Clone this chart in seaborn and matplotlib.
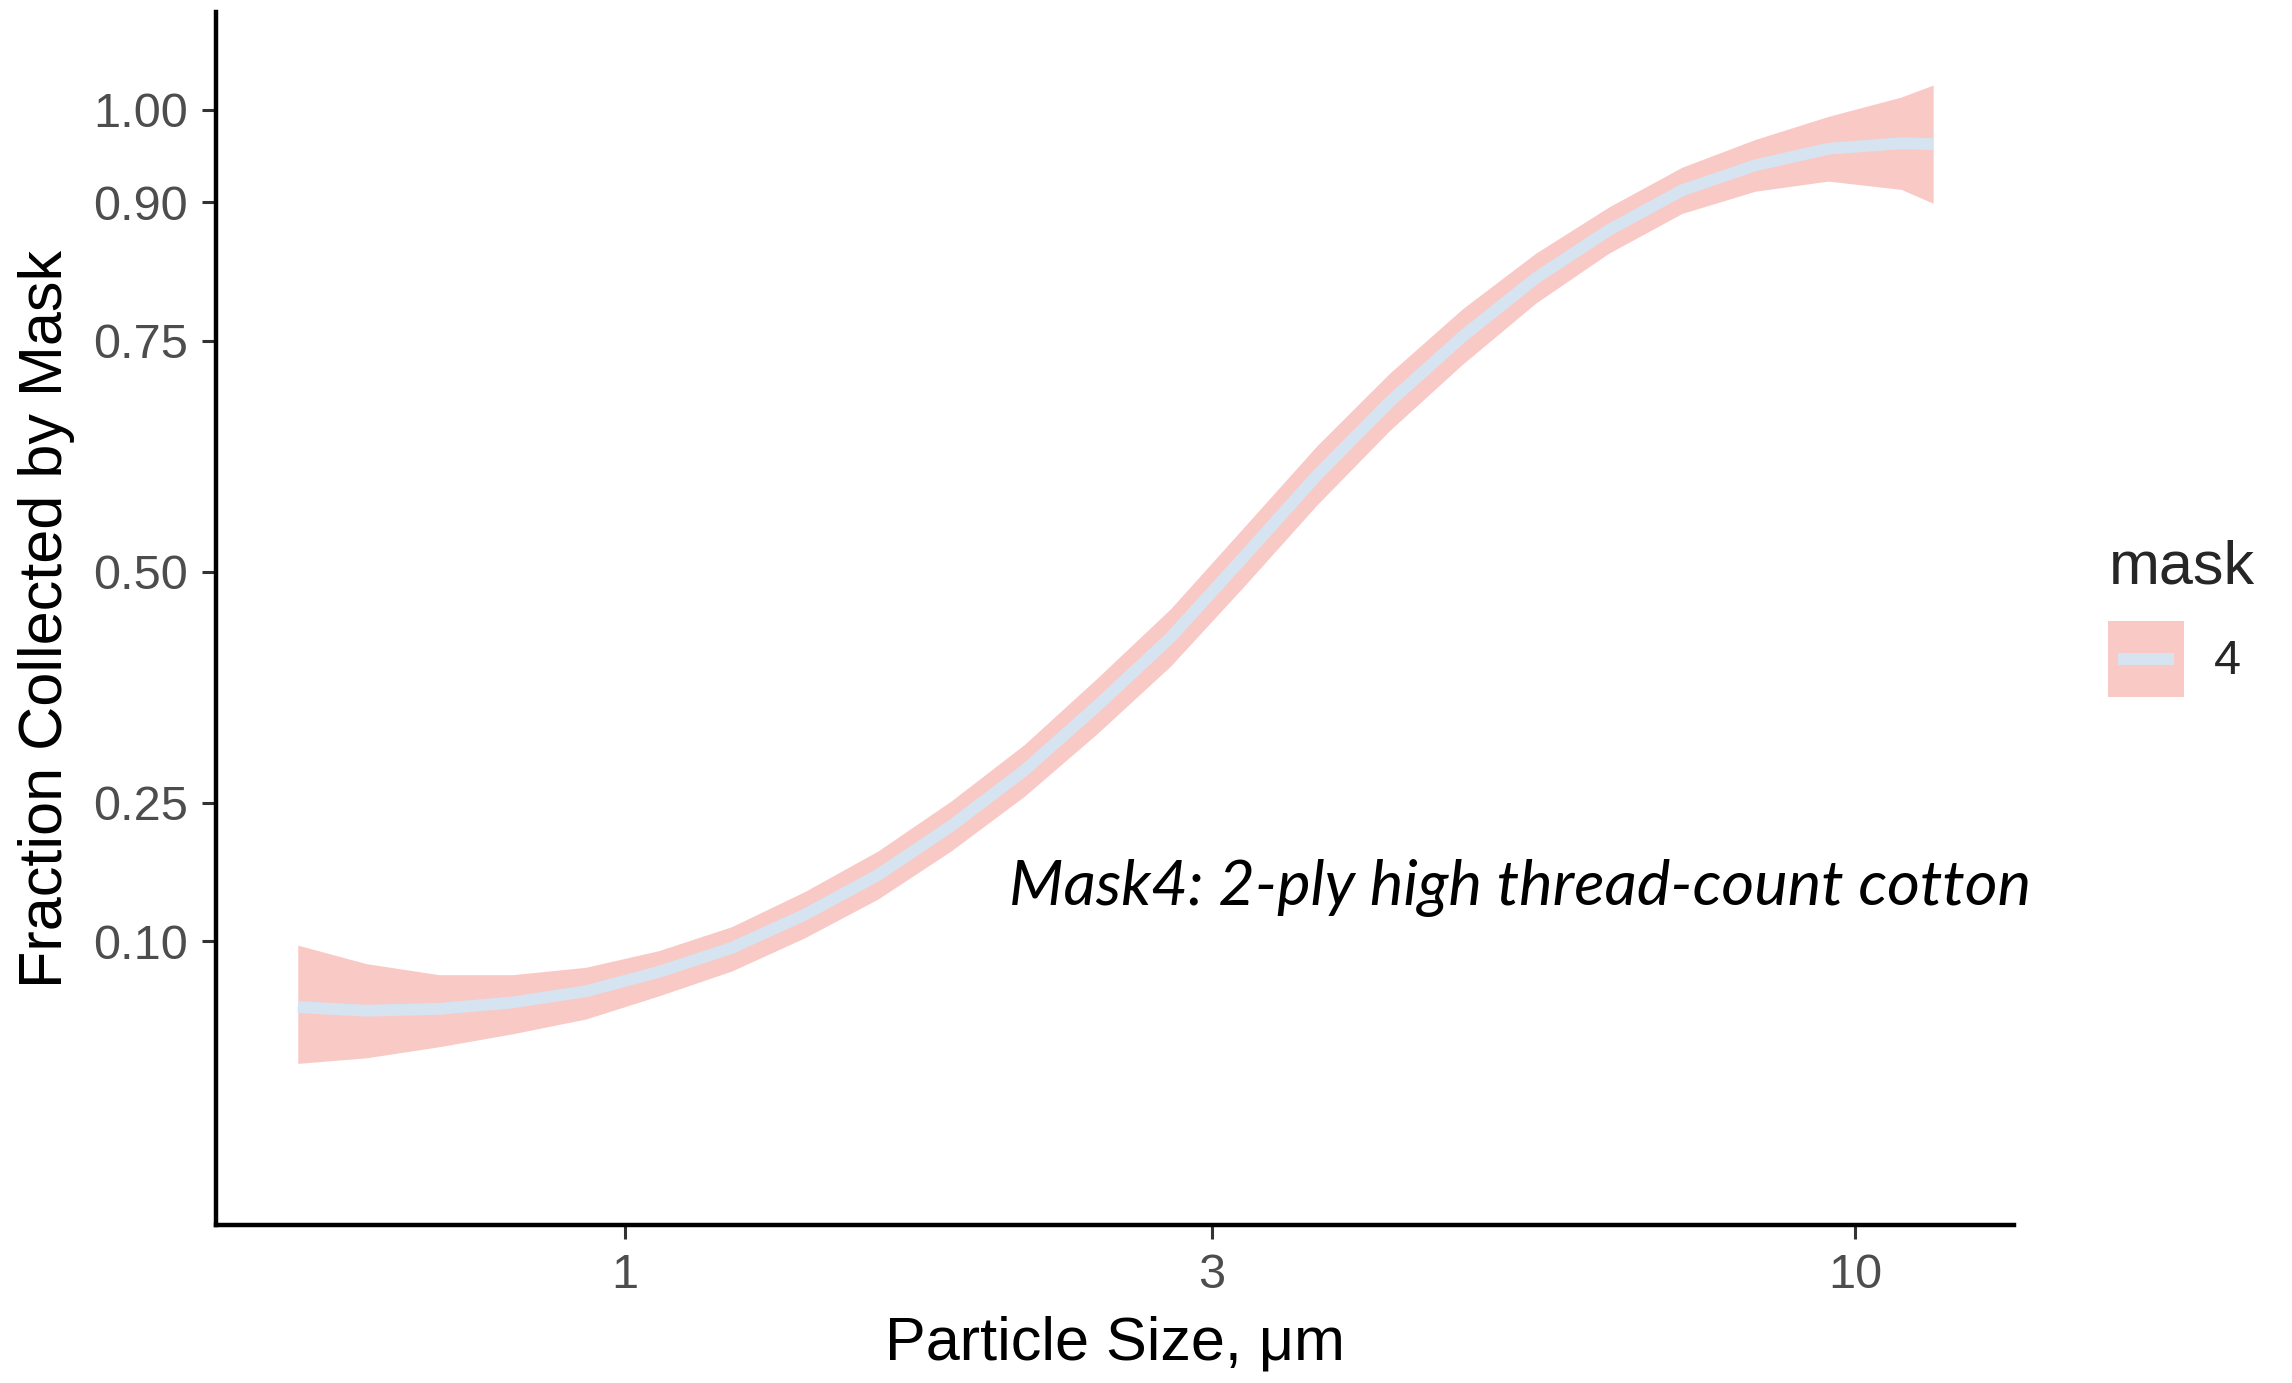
import matplotlib.pyplot as plt
import pandas as pd
import seaborn as sns
from matplotlib.patches import Patch, Rectangle
from matplotlib.lines import Line2D
from matplotlib.legend_handler import HandlerBase

# values (smoothed fit for mask 4)
particle_size = [0.542, 0.616, 0.706, 0.810, 0.929, 1.065, 1.221, 1.400, 1.606, 1.841, 2.111, 2.420,
                 2.776, 3.183, 3.648, 4.183, 4.797, 5.500, 6.306, 7.231, 8.290, 9.506, 10.90, 11.57]
fraction_fit = [0.029, 0.025, 0.027, 0.034, 0.046, 0.067, 0.093, 0.129, 0.172, 0.225, 0.285, 0.355,
                0.429, 0.516, 0.604, 0.684, 0.755, 0.818, 0.870, 0.913, 0.940, 0.958, 0.964, 0.963]
fraction_lower = [-0.032, -0.026, -0.014, 0.000, 0.016, 0.041, 0.068, 0.104, 0.146, 0.198, 0.257, 0.325,
                  0.398, 0.484, 0.572, 0.653, 0.725, 0.791, 0.845, 0.888, 0.912, 0.923, 0.914, 0.899]
fraction_upper = [0.096, 0.076, 0.064, 0.064, 0.072, 0.090, 0.116, 0.154, 0.198, 0.252, 0.313, 0.385,
                  0.460, 0.548, 0.636, 0.715, 0.785, 0.845, 0.895, 0.938, 0.968, 0.993, 1.014, 1.027]
mask_label = '4'
y_breaks = [0.10, 0.25, 0.50, 0.75, 0.90, 1.00]
x_breaks = [1, 3, 10]

ribbon_col = '#F9C9C5'
line_col = '#D6E4F2'

df = pd.DataFrame({'size': particle_size, 'fit': fraction_fit,
                   'lo': fraction_lower, 'hi': fraction_upper, 'mask': mask_label})


# legend key: ribbon square with the fit line centred in it (like ggplot)
class RibbonKey(HandlerBase):
    def create_artists(self, legend, orig_handle, xdescent, ydescent, width, height, fontsize, trans):
        box = Rectangle((-xdescent, -ydescent), width, height, facecolor=ribbon_col,
                        edgecolor='none', transform=trans)
        yc = -ydescent + height / 2
        line = Line2D([-xdescent + 0.13 * width, -xdescent + 0.87 * width], [yc, yc],
                      color=line_col, linewidth=8.5, solid_capstyle='butt', transform=trans)
        return [box, line]


sns.set_theme(style='ticks')
plt.rcParams['font.family'] = ['Liberation Sans', 'DejaVu Sans']

fig = plt.figure(figsize=(22.92, 13.83), dpi=100)
ax = fig.add_axes([0.0942, 0.1142, 0.7845, 0.8771])

ax.fill_between(df['size'], df['lo'], df['hi'], color=ribbon_col, linewidth=0, zorder=1)
sns.lineplot(data=df, x='size', y='fit', color=line_col, linewidth=8.5, ax=ax, legend=False,
             zorder=2, solid_capstyle='butt')

ax.set_xscale('log')
ax.set_xlim(0.465, 13.46)
ax.set_ylim(-0.207, 1.106)
ax.set_xticks(x_breaks)
ax.set_xticklabels([str(b) for b in x_breaks])
ax.minorticks_off()
ax.set_yticks(y_breaks)
ax.set_yticklabels([f'{b:.2f}' for b in y_breaks])

sns.despine(ax=ax)
for s in ['left', 'bottom']:
    ax.spines[s].set_linewidth(3.2)
    ax.spines[s].set_color('black')
ax.tick_params(axis='both', length=10, width=2.2, color='#333333', labelsize=35,
               labelcolor='#4D4D4D', pad=10)

ax.set_xlabel('Particle Size, μm', fontsize=44, color='black', labelpad=13)
ax.set_ylabel('Fraction Collected by Mask', fontsize=44, color='black', labelpad=13)

ax.text(2.05, 0.139, 'Mask4: 2-ply high thread-count cotton', fontsize=45.5, fontstyle='italic',
        family=['Lato', 'DejaVu Sans'], color='black', va='baseline', ha='left')

key = Patch(facecolor=ribbon_col, edgecolor='none')
fig.legend(handles=[key], labels=[mask_label], title='mask',
           loc='upper left', bbox_to_anchor=(2089 / 2292, 1 - 520 / 1383), frameon=False,
           fontsize=35, title_fontsize=44, handlelength=1.56, handleheight=2.03,
           handletextpad=0.6, alignment='left', borderaxespad=0,
           handler_map={Patch: RibbonKey()})

fig.savefig('out.png', dpi=100, facecolor='white')
